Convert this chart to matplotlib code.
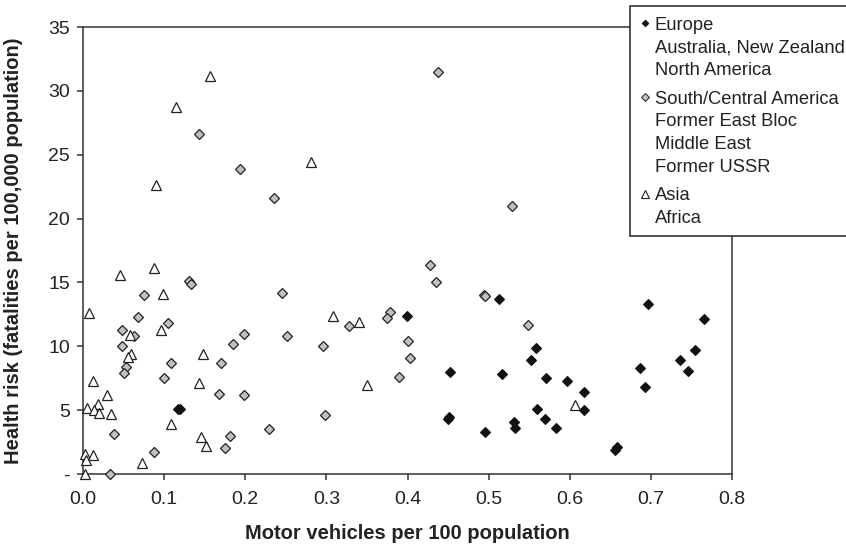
import matplotlib
matplotlib.use("Agg")
import matplotlib.pyplot as plt
from matplotlib.lines import Line2D
from matplotlib.patches import Rectangle
from matplotlib.ticker import FixedLocator, FixedFormatter

# Europe, Australia/New Zealand, North America
west_x = [0.1196, 0.117, 0.399, 0.513, 0.696, 0.766, 0.453, 0.516, 0.559, 0.552,
          0.571, 0.596, 0.618, 0.618, 0.560, 0.569, 0.583, 0.4495, 0.4515, 0.4955,
          0.531, 0.533, 0.656, 0.658, 0.686, 0.693, 0.736, 0.754, 0.746]
west_y = [5.1, 5.1, 12.4, 13.7, 13.3, 12.1, 8.0, 7.8, 9.9, 8.9,
          7.5, 7.3, 6.4, 5.0, 5.1, 4.3, 3.6, 4.3, 4.5, 3.3,
          4.1, 3.6, 1.9, 2.1, 8.3, 6.8, 8.95, 9.7, 8.1]

# South/Central America, Former East Bloc, Middle East, Former USSR
mid_x = [0.143, 0.1935, 0.2354, 0.131, 0.133, 0.0756, 0.2457, 0.0678, 0.0477, 0.0629,
         0.105, 0.198, 0.251, 0.185, 0.0477, 0.296, 0.328, 0.378, 0.375, 0.108,
         0.1705, 0.0526, 0.0505, 0.0998, 0.168, 0.198, 0.3895, 0.298, 0.0378, 0.0879,
         0.181, 0.175, 0.229, 0.0329, 0.400, 0.403, 0.438, 0.5289, 0.428, 0.4355,
         0.494, 0.496, 0.5486]
mid_y = [26.6, 23.9, 21.6, 15.1, 14.9, 14.0, 14.2, 12.3, 11.3, 10.8,
         11.8, 11.0, 10.8, 10.2, 10.0, 10.0, 11.6, 12.7, 12.2, 8.7,
         8.7, 8.4, 7.9, 7.5, 6.3, 6.2, 7.6, 4.6, 3.1, 1.7,
         3.0, 2.0, 3.5, 0.0, 10.4, 9.1, 31.5, 21.0, 16.4, 15.0,
         14.0, 13.9, 11.7]

# Asia, Africa
asia_x = [0.156, 0.115, 0.0904, 0.281, 0.045, 0.088, 0.098, 0.0074, 0.058, 0.096,
          0.0596, 0.055, 0.148, 0.0123, 0.143, 0.0296, 0.0185, 0.0053, 0.0136, 0.0201,
          0.035, 0.108, 0.145, 0.152, 0.0727, 0.002, 0.0123, 0.0037, 0.003, 0.308,
          0.340, 0.350, 0.606]
asia_y = [31.2, 28.7, 22.6, 24.4, 15.6, 16.1, 14.1, 12.6, 10.9, 11.3,
          9.4, 9.2, 9.4, 7.3, 7.1, 6.2, 5.5, 5.2, 5.0, 4.8,
          4.7, 3.9, 2.9, 2.2, 0.9, 1.6, 1.5, 1.1, 0.0, 12.4,
          11.9, 7.0, 5.4]

x_ticks = [0.0, 0.1, 0.2, 0.3, 0.4, 0.5, 0.6, 0.7, 0.8]
x_tick_labels = ["0.0", "0.1", "0.2", "0.3", "0.4", "0.5", "0.6", "0.7", "0.8"]
y_ticks = [0, 5, 10, 15, 20, 25, 30, 35]
y_tick_labels = ["-", "5", "10", "15", "20", "25", "30", "35"]

legend_groups = [
    ["Europe", "Australia, New Zealand", "North America"],
    ["South/Central America", "Former East Bloc", "Middle East", "Former USSR"],
    ["Asia", "Africa"],
]

plt.rcParams["font.family"] = ["Liberation Sans", "DejaVu Sans"]
TEXT = "#222222"
FS_LEG = 13.2
FS_TICK = 14.0
FS_LABEL = 14.5

W, H = 846, 547
fig = plt.figure(figsize=(W / 100, H / 100), dpi=100)


def fx(px):
    return px / W


def fy(py):
    return 1 - py / H


ax = fig.add_axes([fx(83), fy(474), 649 / W, 447 / H])

marker_styles = [
    dict(marker="D", ms=5.0, mfc="#111111", mec="#111111", mew=0.8),
    dict(marker="D", ms=5.0, mfc="#c0c0c0", mec="#222222", mew=0.9),
    dict(marker="^", ms=7.0, mfc="white", mec="#222222", mew=0.9),
]

for xs, ys, st in zip([west_x, mid_x, asia_x], [west_y, mid_y, asia_y], marker_styles):
    ax.plot(xs, ys, ls="none", clip_on=False, zorder=3, **st)

ax.set_xlim(0, 0.8)
ax.set_ylim(0, 35)
ax.xaxis.set_major_locator(FixedLocator(x_ticks))
ax.xaxis.set_major_formatter(FixedFormatter(x_tick_labels))
ax.yaxis.set_major_locator(FixedLocator(y_ticks))
ax.yaxis.set_major_formatter(FixedFormatter(y_tick_labels))

for side in ["left", "right", "top", "bottom"]:
    ax.spines[side].set_color("#333333")
    ax.spines[side].set_linewidth(1.1)

ax.tick_params(axis="x", direction="out", length=4.5, width=1.1, color="#333333",
               pad=8.0, labelsize=FS_TICK, labelcolor=TEXT)
ax.tick_params(axis="y", direction="out", length=4.5, width=1.1, color="#333333",
               pad=5.0, labelsize=FS_TICK, labelcolor=TEXT)

ax.set_xlabel("Motor vehicles per 100 population", fontsize=FS_LABEL,
              fontweight="bold", color=TEXT)
ax.set_ylabel("Health risk (fatalities per 100,000 population)", fontsize=FS_LABEL,
              fontweight="bold", color=TEXT)
ax.xaxis.set_label_coords(0.5, -0.112)
ax.yaxis.set_label_coords(-0.092, 0.5)

# legend box hanging off the right edge of the figure
box = Rectangle((fx(630), fy(236)), 1.0, (236 - 6) / H, transform=fig.transFigure,
                facecolor="white", edgecolor="#222222", linewidth=1.1, zorder=10)
fig.add_artist(box)

legend_markers = [
    dict(marker="D", ms=3.4, mfc="#111111", mec="#111111", mew=0.6),
    dict(marker="D", ms=3.6, mfc="#c0c0c0", mec="#222222", mew=0.7),
    dict(marker="^", ms=5.5, mfc="white", mec="#222222", mew=0.8),
]

y = 23.0
step = 22.7
for lines, st in zip(legend_groups, legend_markers):
    fig.add_artist(Line2D([fx(645)], [fy(y)], transform=fig.transFigure, ls="none",
                          zorder=11, **st))
    for line in lines:
        fig.text(fx(655), fy(y + 6.5), line, fontsize=FS_LEG, color=TEXT,
                 ha="left", va="baseline", zorder=11)
        y += step
    y += 6.0

fig.savefig("out.png", dpi=100, facecolor="white")
